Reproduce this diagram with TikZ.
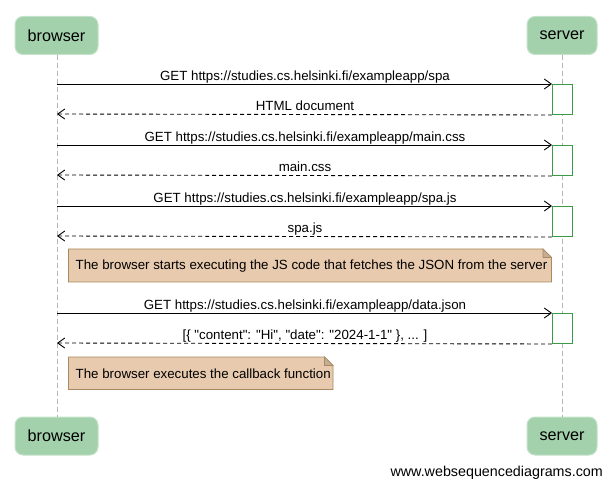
\documentclass[tikz,border=0pt]{standalone}
\usepackage{fontspec}
\setmainfont{Liberation Sans}[Ligatures=TeXOff]
\usetikzlibrary{arrows.meta}
\definecolor{actorfill}{HTML}{A3D1AB}
\definecolor{actorline}{HTML}{C4E2C9}
\definecolor{notefill}{HTML}{E8CAAF}
\definecolor{noteline}{HTML}{A88A5E}
\definecolor{actgreen}{HTML}{3A9A45}
\definecolor{lifegray}{HTML}{B4B4B4}
\begin{document}
\begin{tikzpicture}[x=1pt,y=-1pt,
  actor/.style={rectangle, rounded corners=8pt, fill=actorfill, draw=actorline, line width=1pt,
    font=\fontsize{16.2}{19}\selectfont, text=black, inner sep=0pt, minimum height=38pt},
  lifeline/.style={draw=lifegray, line width=0.8pt, dash pattern=on 5pt off 3pt},
  act/.style={rectangle, draw=actgreen, fill=white, line width=1pt, minimum width=20pt, minimum height=30pt, inner sep=0pt, anchor=north west},
  msg/.style={draw=black, line width=0.9pt, -{Straight Barb[length=7pt,width=10pt]}},
  ret/.style={msg, dash pattern=on 4pt off 3pt},
  lbl/.style={font=\fontsize{13.3}{15}\selectfont, anchor=base, inner sep=0pt},
  notebox/.style={fill=notefill, draw=noteline, line width=0.9pt},
  notefold/.style={fill=notefill!85!black, draw=noteline, line width=0.6pt},
  notetext/.style={font=\fontsize{13.3}{15}\selectfont, anchor=west, inner sep=0pt}
]
\useasboundingbox (0,0) rectangle (611,489);

% actors
\node[actor, minimum width=83pt] (bt) at (56.5,35.5) {browser};
\node[actor, minimum width=70pt] (st) at (562,35.5) {server};
\node[actor, minimum width=83pt] (bb) at (56.5,436) {browser};
\node[actor, minimum width=70pt] (sb) at (562,436) {server};

% lifelines
\coordinate (btl) at (57,55);
\coordinate (bbl) at (57,417);
\coordinate (stl) at (562,55);
\coordinate (sbl) at (562,417);
\draw[lifeline] (btl) -- (bbl);
\draw[lifeline] (stl) -- (sbl);

% activation boxes
\node[act] (a1) at (552,84) {};
\node[act] (a2) at (552,145) {};
\node[act] (a3) at (552,206) {};
\node[act] (a4) at (552,313) {};

% browser lifeline points
\coordinate (b1) at (57,84);
\coordinate (b2) at (57,114);
\coordinate (b3) at (57,145);
\coordinate (b4) at (57,175);
\coordinate (b5) at (57,206);
\coordinate (b6) at (57,236);
\coordinate (b7) at (57,313);
\coordinate (b8) at (57,343);

% messages
\draw[msg] (b1) -- (a1.north west);
\node[lbl] (l1) at (305,81) {GET https://studies.cs.helsinki.fi/exampleapp/spa};
\draw[ret] (a1.south west) -- (b2);
\node[lbl] (l2) at (305,111) {HTML document};

\draw[msg] (b3) -- (a2.north west);
\node[lbl] (l3) at (305,142) {GET https://studies.cs.helsinki.fi/exampleapp/main.css};
\draw[ret] (a2.south west) -- (b4);
\node[lbl] (l4) at (305,172) {main.css};

\draw[msg] (b5) -- (a3.north west);
\node[lbl] (l5) at (305,203) {GET https://studies.cs.helsinki.fi/exampleapp/spa.js};
\draw[ret] (a3.south west) -- (b6);
\node[lbl] (l6) at (305,233) {spa.js};

% note 1
\draw[notebox] (68.5,249) -- (543,249) -- (551.5,257.5) -- (551.5,282) -- (68.5,282) -- cycle;
\draw[notefold] (543,249) -- (543,257.5) -- (551.5,257.5) -- cycle;
\node[notetext] (n1) at (75.5,266.5) {The browser starts executing the JS code that fetches the JSON from the server};

\draw[msg] (b7) -- (a4.north west);
\node[lbl] (l7) at (305,310) {GET https://studies.cs.helsinki.fi/exampleapp/data.json};
\draw[ret] (a4.south west) -- (b8);
\node[lbl] (l8) at (305,340) {[\{ "content": "Hi", "date": "2024-1-1" \}, ... ]};

% note 2
\draw[notebox] (68.5,357) -- (324.5,357) -- (333,365.5) -- (333,389.5) -- (68.5,389.5) -- cycle;
\draw[notefold] (324.5,357) -- (324.5,365.5) -- (333,365.5) -- cycle;
\node[notetext] (n2) at (75.5,373.5) {The browser executes the callback function};

% watermark
\node[font=\fontsize{14.3}{16}\selectfont, anchor=east, inner sep=0pt] (wm) at (603,473) {www.websequencediagrams.com};
\end{tikzpicture}
\end{document}
